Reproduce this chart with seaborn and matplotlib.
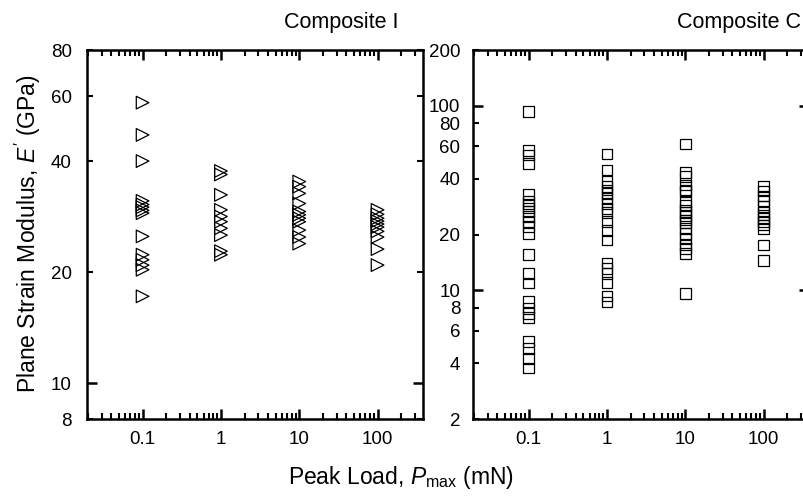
import numpy as np
import pandas as pd
import seaborn as sns
import matplotlib.pyplot as plt
from matplotlib.ticker import LogLocator, NullFormatter

# Peak loads (mN)
loads = [0.1, 1, 10, 100]

# Composite I, plane strain modulus (GPa) at each peak load
comp_i_01 = [57.6, 47.1, 40.0, 31.2, 30.5, 30.0, 29.4, 28.9, 25.0, 22.3, 21.6, 20.9, 20.3, 17.2]
comp_i_1 = [37.6, 36.8, 32.4, 29.5, 28.3, 27.4, 26.3, 25.2, 22.8, 22.3]
comp_i_10 = [35.2, 34.1, 32.7, 30.7, 29.2, 28.6, 28.0, 27.4, 26.0, 24.9, 23.9]
comp_i_100 = [29.5, 28.7, 28.0, 27.5, 27.0, 26.5, 25.8, 24.9, 23.1, 20.9]

# Composite C, plane strain modulus (GPa) at each peak load
comp_c_01 = [92.6, 57.0, 54.0, 48.6, 33.0, 30.4, 29.2, 27.9, 26.6, 25.0, 23.5, 22.1, 20.3,
             15.6, 12.3, 10.9, 8.65, 7.96, 7.48, 7.08, 5.25, 4.83, 4.27, 3.77]
comp_c_1 = [54.6, 44.7, 38.7, 36.3, 34.8, 33.4, 31.4, 29.5, 27.7, 26.3, 23.5, 21.0, 18.7,
            14.0, 13.1, 12.3, 11.0, 9.3, 8.6]
comp_c_10 = [61.9, 43.3, 41.2, 37.1, 34.8, 34.1, 30.1, 28.9, 27.2, 26.3, 25.2, 24.0, 23.2,
             21.6, 20.3, 19.0, 17.5, 16.8, 15.8, 9.6]
comp_c_100 = [36.3, 34.5, 32.3, 30.5, 28.3, 26.5, 25.5, 24.5, 23.5, 22.5, 21.6, 17.5, 14.5]


def to_frame(groups):
    rows = []
    for load, vals in zip(loads, groups):
        for v in vals:
            rows.append((load, v))
    return pd.DataFrame(rows, columns=['load', 'E'])


df_i = to_frame([comp_i_01, comp_i_1, comp_i_10, comp_i_100])
df_c = to_frame([comp_c_01, comp_c_1, comp_c_10, comp_c_100])

sns.set_style('ticks')
plt.rcParams['font.family'] = ['Liberation Sans', 'DejaVu Sans']
plt.rcParams['mathtext.fontset'] = 'custom'
plt.rcParams['mathtext.rm'] = 'Liberation Sans'
plt.rcParams['mathtext.it'] = 'Liberation Sans:italic'
for key in ['text.color', 'axes.labelcolor', 'xtick.color', 'ytick.color', 'axes.edgecolor']:
    plt.rcParams[key] = 'black'

fig = plt.figure(figsize=(8.04, 4.99), dpi=100)
ax1 = fig.add_axes([87 / 804, 80 / 499, 336 / 804, 369 / 499])
ax2 = fig.add_axes([473 / 804, 80 / 499, 336 / 804, 369 / 499])

sns.scatterplot(data=df_i, x='load', y='E', marker='>', s=83, facecolor='none',
                edgecolor='black', linewidth=0.9, ax=ax1, legend=False)
sns.scatterplot(data=df_c, x='load', y='E', marker='s', s=58, facecolor='none',
                edgecolor='black', linewidth=0.9, ax=ax2, legend=False)

for ax in (ax1, ax2):
    ax.set_xscale('log')
    ax.set_yscale('log')
    ax.set_xlim(0.0195, 380)
    ax.set_xticks(loads, labels=['0.1', '1', '10', '100'])
    ax.xaxis.set_minor_locator(LogLocator(base=10, subs=np.arange(2, 10)))
    ax.xaxis.set_minor_formatter(NullFormatter())
    ax.set_xlabel('')
    ax.set_ylabel('')
    for sp in ax.spines.values():
        sp.set_linewidth(1.8)
        sp.set_color('black')
        sp.set_visible(True)
    ax.tick_params(which='both', direction='in', top=True, right=True, labelsize=13.5,
                   color='black', labelcolor='black')
    ax.tick_params(which='major', length=7.5, width=1.8)
    ax.tick_params(which='minor', length=4.5, width=1.5)
    ax.tick_params(axis='x', which='both', pad=9)

ax1.set_ylim(8, 80)
ax1.set_yticks([10], labels=['10'])
ax1.set_yticks([8, 20, 40, 60, 80], labels=['8', '20', '40', '60', '80'], minor=True)
ax1.tick_params(axis='y', which='both', pad=11)

ax2.set_ylim(2, 200)
ax2.set_yticks([10, 100], labels=['10', '100'])
ax2.set_yticks([2, 4, 6, 8, 20, 40, 60, 80, 200],
               labels=['2', '4', '6', '8', '20', '40', '60', '80', '200'], minor=True)
ax2.tick_params(axis='y', which='both', pad=9)

fig.text(0.425, 0.955, 'Composite I', ha='center', va='center', fontsize=15.5)
fig.text(0.996, 0.955, 'Composite C', ha='right', va='center', fontsize=15.5)
fig.text(0.035, 0.531, "Plane Strain Modulus, $E'$ (GPa)", rotation=90,
         ha='center', va='center', fontsize=16.5)
fig.text(0.499, 0.044, r'Peak Load, $P_{\mathrm{max}}$ (mN)', ha='center', va='center',
         fontsize=16.5)

fig.savefig('out.png', dpi=100)
